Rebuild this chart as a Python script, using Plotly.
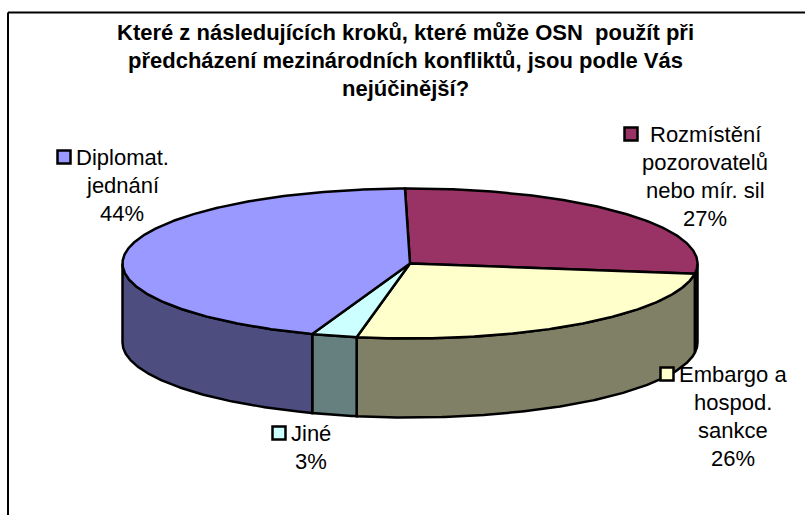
import math
import plotly.graph_objects as go

# Data: listed clockwise from the top of the pie
categories = [["Rozmístění", "pozorovatelů", "nebo mír. sil"],
              ["Embargo a", "hospod.", "sankce"],
              ["Jiné"],
              ["Diplomat.", "jednání"]]
values = [27.45, 25.8, 2.55, 44.2]
title_lines = ["Které z následujících kroků, které může OSN\u00a0 použít při",
               "předcházení mezinárodních konfliktů, jsou podle Vás",
               "nejúčinější?"]
top_colors = ["#993366", "#FFFFCC", "#CCFFFF", "#9999FF"]
side_colors = ["#4D1933", "#808066", "#668080", "#4D4D80"]

# Pixel-based page geometry
W, H = 805, 515
CX, CY, RX, RY, DEPTH = 410, 263.5, 287.5, 75, 79
START = -1.0
FONT = "Liberation Sans, Arial, sans-serif"
LABEL_POS = [(705, 134, 631), (733, 374, 667), (311, 433, 279), (122, 157, 64)]
LINE_GAP = [28, 28, 28, 28]


def pt(theta, dy=0):
    a = math.radians(theta)
    return CX + RX * math.sin(a), CY - RY * math.cos(a) + dy


def arc(t1, t2, dy=0):
    n = max(2, int(abs(t2 - t1) * 2))
    return [pt(t1 + (t2 - t1) * i / n, dy) for i in range(n + 1)]


def poly(fig, points, color, width=2.5):
    fig.add_trace(go.Scatter(
        x=[p[0] for p in points] + [points[0][0]],
        y=[p[1] for p in points] + [points[0][1]],
        mode="lines", fill="toself", fillcolor=color,
        line=dict(color="black", width=width),
        hoverinfo="skip", showlegend=False))


fig = go.Figure()

# slice angles from the values
total = sum(values)
angles = []
t = START
for v in values:
    angles.append((t, t + 360 * v / total))
    t += 360 * v / total

# side walls (only the part facing the viewer)
for (a, b), c in zip(angles, side_colors):
    lo, hi = max(a, 90), min(b, 270)
    if hi > lo:
        poly(fig, arc(lo, hi) + arc(hi, lo, DEPTH), c)

# top faces
for (a, b), c in zip(angles, top_colors):
    poly(fig, [(CX, CY)] + arc(a, b), c)

# labels
annotations = []
for i, yy in enumerate([32, 60, 88]):
    annotations.append(dict(x=405, y=yy, text="<b>" + title_lines[i] + "</b>", showarrow=False,
                            xanchor="center", yanchor="middle",
                            font=dict(family=FONT, size=22, color="black")))

for name, v, c, (lx, ly, kx), gap in zip(categories, values, top_colors, LABEL_POS, LINE_GAP):
    lines = name + [f"{round(v)}%"]
    for j, line in enumerate(lines):
        annotations.append(dict(x=lx, y=ly + j * gap, text=line, showarrow=False,
                                xanchor="center", yanchor="middle",
                                font=dict(family=FONT, size=22, color="black")))
    fig.add_trace(go.Scatter(
        x=[kx], y=[ly], mode="markers",
        marker=dict(symbol="square", size=13, color=c, line=dict(color="black", width=2.5)),
        hoverinfo="skip", showlegend=False))

fig.update_layout(
    width=W, height=H, margin=dict(l=0, r=0, t=0, b=0),
    paper_bgcolor="white", plot_bgcolor="white",
    xaxis=dict(range=[0, W], visible=False, fixedrange=True),
    yaxis=dict(range=[H, 0], visible=False, fixedrange=True),
    annotations=annotations,
    shapes=[
        dict(type="line", x0=8, x1=8, y0=12.5, y1=H, line=dict(color="black", width=2)),
        dict(type="line", x0=8, x1=W, y0=12.5, y1=12.5, line=dict(color="black", width=2)),
    ],
)
fig.write_html("out.html", config=dict(displayModeBar=False),
               post_script="document.body.style.margin='0';document.documentElement.style.overflow='hidden';")
